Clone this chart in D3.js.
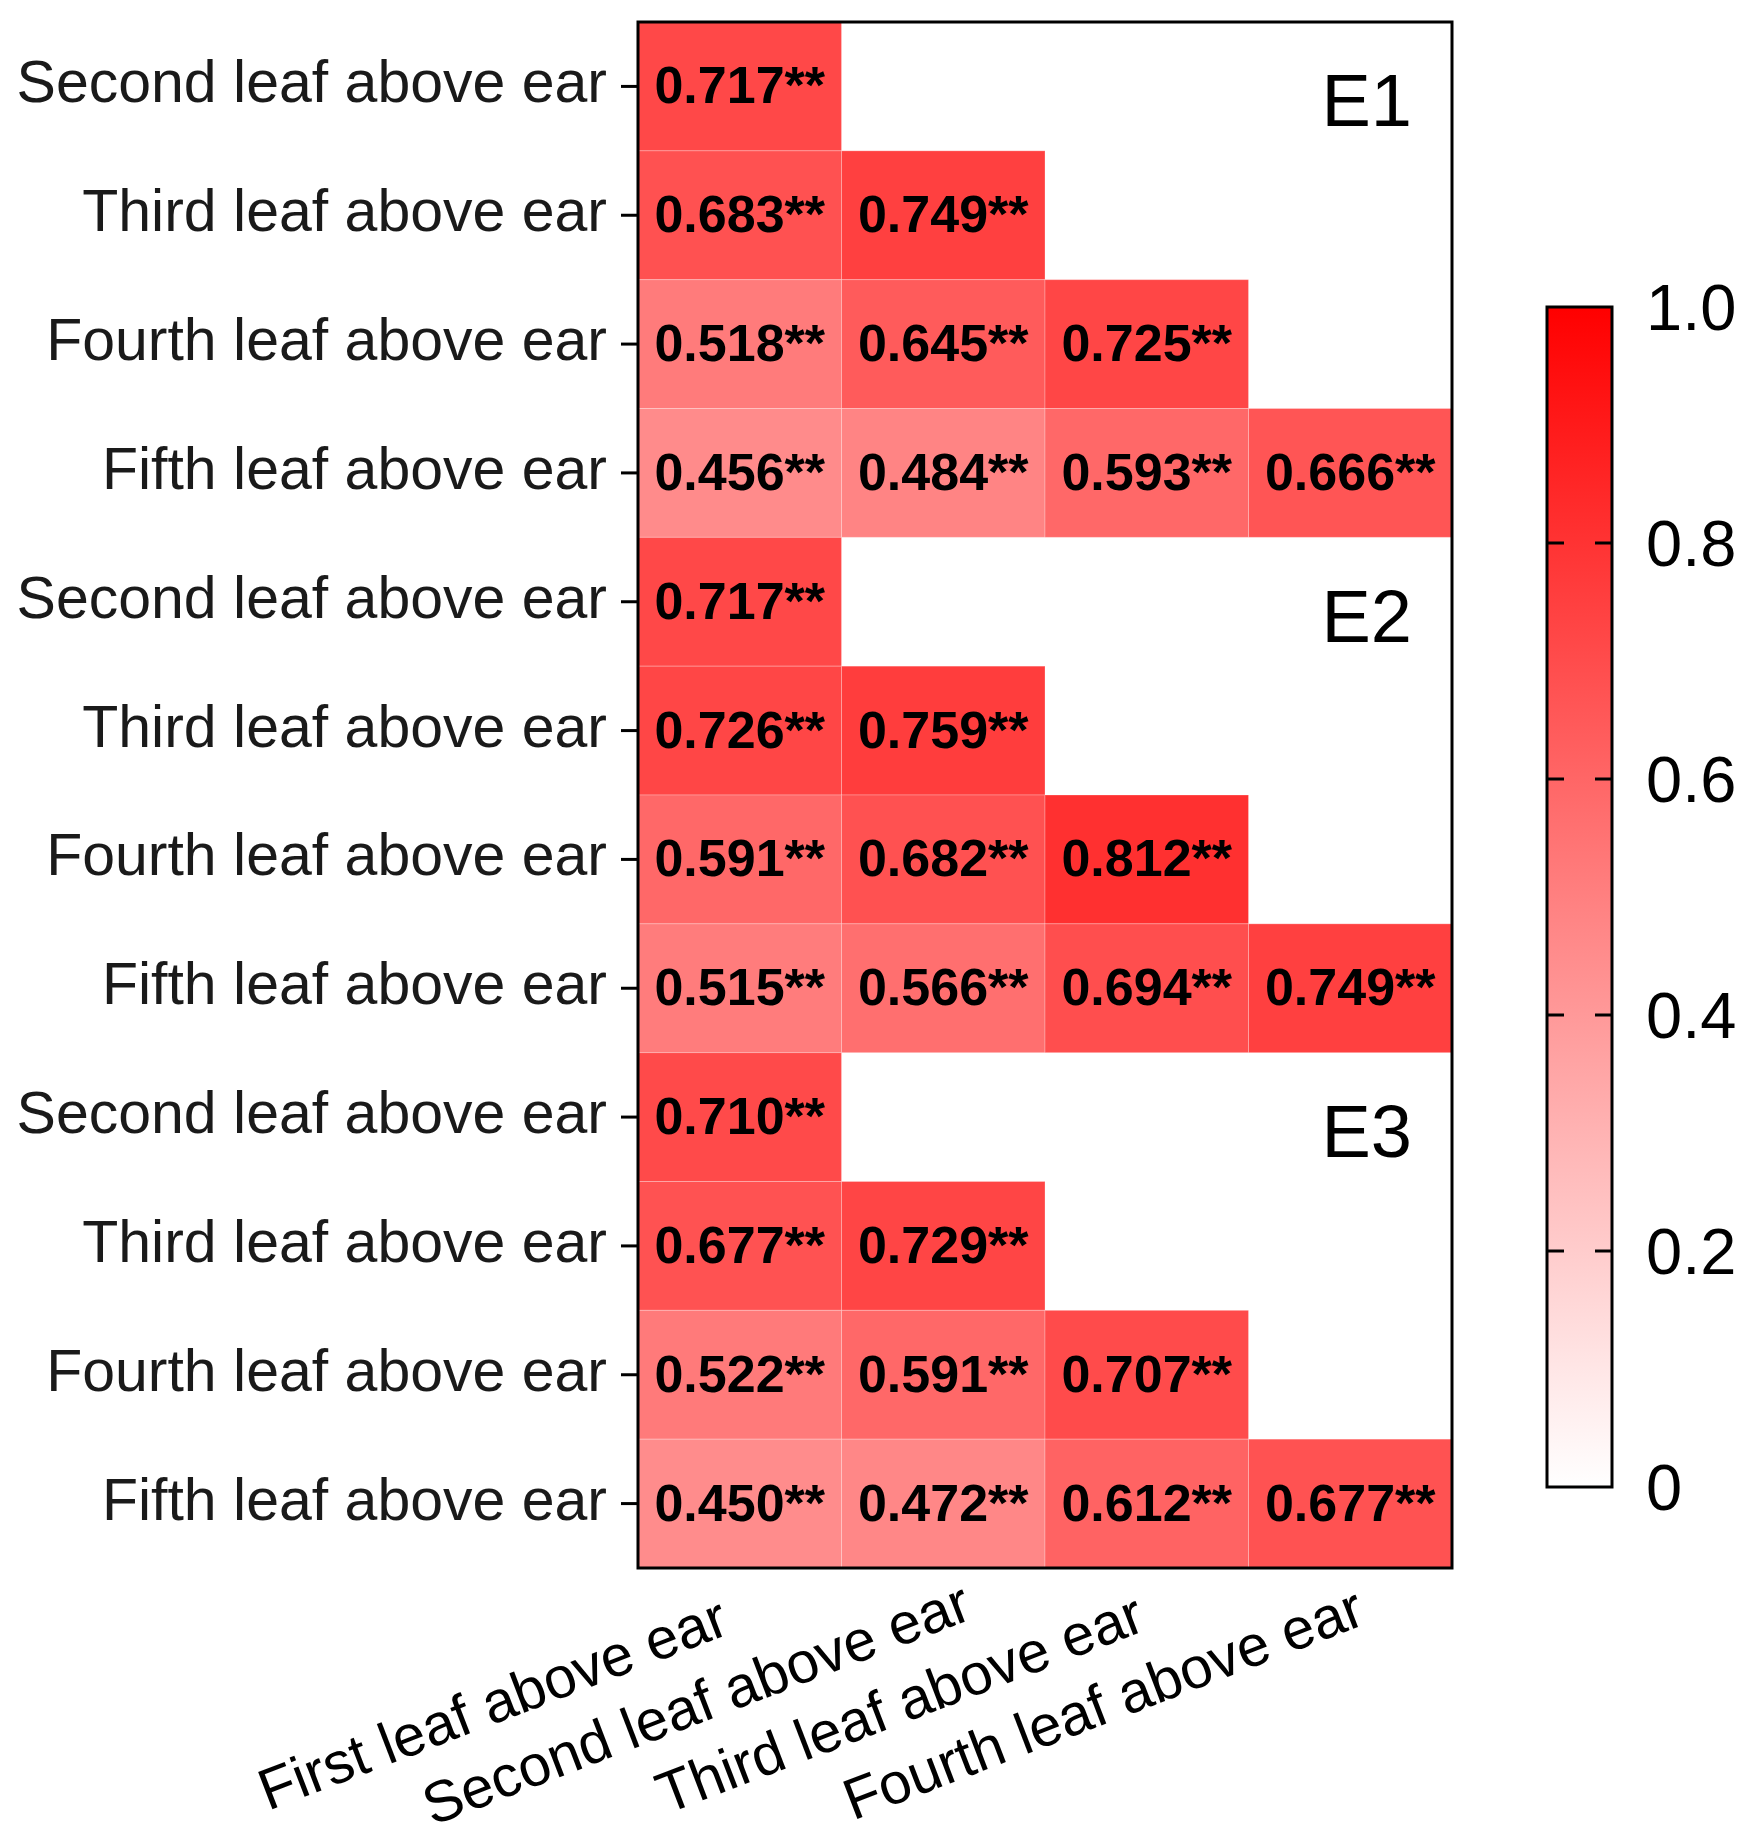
<!DOCTYPE html>
<html lang="en">
<head>
	<meta charset="UTF-8">
	<title>Leaf correlation heatmap</title>
	<script src="https://d3js.org/d3.v7.min.js"></script>
	<style>
		body { margin: 0; background: #fff; }
		text { font-family: "Liberation Sans", Arial, sans-serif; }
	</style>
</head>
<body>
<svg id="drawing_pad" width="1747" height="1846"></svg>
<script>
	// column leaves (x) and row leaves (y), three environments stacked
	let colNames = ["First leaf above ear", "Second leaf above ear", "Third leaf above ear", "Fourth leaf above ear"];
	let rowNames = ["Second leaf above ear", "Third leaf above ear", "Fourth leaf above ear", "Fifth leaf above ear"];
	let envs = ["E1", "E2", "E3"];

	// lower triangle values per environment, row by row
	let e1 = [[0.717], [0.683, 0.749], [0.518, 0.645, 0.725], [0.456, 0.484, 0.593, 0.666]];
	let e2 = [[0.717], [0.726, 0.759], [0.591, 0.682, 0.812], [0.515, 0.566, 0.694, 0.749]];
	let e3 = [[0.710], [0.677, 0.729], [0.522, 0.591, 0.707], [0.450, 0.472, 0.612, 0.677]];
	let envValues = [e1, e2, e3];
	let signif = "**";

	let legendTicks = [0, 0.2, 0.4, 0.6, 0.8, 1.0];

	function draw(){
		let svg = d3.select("#drawing_pad");
		let left = 638, right = 1452, top = 22, bottom = 1568;

		let rowKeys = [];
		envs.forEach(function(e){ rowNames.forEach(function(r){ rowKeys.push(e + "|" + r); }); });

		let x = d3.scaleBand().domain(colNames).range([left, right]);
		let y = d3.scaleBand().domain(rowKeys).range([top, bottom]);
		let colors = d3.scaleLinear().domain([0, 1]).range(["#ffffff", "#ff0000"]);

		let cells = [];
		envValues.forEach(function(rows, ei){
			rows.forEach(function(vals, ri){
				vals.forEach(function(v, ci){
					cells.push({row: envs[ei] + "|" + rowNames[ri], col: colNames[ci], value: v});
				});
			});
		});

		let g = svg.append("g");
		g.selectAll(".cell").data(cells).enter().append("rect")
			.attr("class", "cell")
			.attr("x", function(d){ return x(d.col); })
			.attr("y", function(d){ return y(d.row); })
			.attr("width", x.bandwidth())
			.attr("height", y.bandwidth())
			.style("fill", function(d){ return colors(d.value); })
			.style("stroke", "rgba(255,255,255,0.25)")
			.style("stroke-width", 1);

		g.selectAll(".val").data(cells).enter().append("text")
			.attr("class", "val")
			.attr("x", function(d){ return x(d.col) + x.bandwidth() / 2; })
			.attr("y", function(d){ return y(d.row) + y.bandwidth() / 2 + 17; })
			.attr("text-anchor", "middle")
			.attr("font-size", 52)
			.attr("font-weight", "bold")
			.text(function(d){ return d.value.toFixed(3) + signif; });

		// environment tags
		g.selectAll(".env").data(envs).enter().append("text")
			.attr("class", "env")
			.attr("x", right - 40)
			.attr("y", function(d){ return y(d + "|" + rowNames[0]) + y.bandwidth() / 2 + 40; })
			.attr("text-anchor", "end")
			.attr("font-size", 74)
			.text(function(d){ return d; });

		// frame
		svg.append("rect")
			.attr("x", left).attr("y", top)
			.attr("width", right - left).attr("height", bottom - top)
			.style("fill", "none").style("stroke", "#000").style("stroke-width", 3);

		// y axis
		let yAxis = svg.append("g")
			.attr("transform", "translate(" + left + ",0)")
			.call(d3.axisLeft(y).tickSize(17).tickSizeOuter(0).tickPadding(14)
				.tickFormat(function(k){ return k.split("|")[1]; }));
		yAxis.select(".domain").remove();
		yAxis.selectAll("line").style("stroke", "#000").style("stroke-width", 3);
		yAxis.selectAll("text")
			.attr("font-size", 59).attr("fill", "#1a1a1a")
			.attr("font-family", "Liberation Sans, Arial, sans-serif")
			.attr("dy", "0.27em");

		// x axis, rotated labels
		let xAxis = svg.append("g")
			.attr("transform", "translate(0," + bottom + ")")
			.call(d3.axisBottom(x).tickSize(0).tickSizeOuter(0));
		xAxis.select(".domain").remove();
		xAxis.selectAll("text")
			.attr("font-size", 58).attr("fill", "#000")
			.attr("font-family", "Liberation Sans, Arial, sans-serif")
			.attr("text-anchor", "middle")
			.attr("y", null).attr("dy", null)
			.attr("transform", "translate(-240,154) rotate(-21)");

		drawLegend(svg, colors);
	}

	function drawLegend(svg, colors){
		let lx = 1547, lw = 65;
		let ly = d3.scaleLinear().domain([0, 1]).range([1487, 307]);

		let grad = svg.append("defs").append("linearGradient")
			.attr("id", "cbar").attr("x1", 0).attr("y1", 1).attr("x2", 0).attr("y2", 0);
		d3.range(0, 1.01, 0.1).forEach(function(t){
			grad.append("stop").attr("offset", t).attr("stop-color", colors(t));
		});

		svg.append("rect")
			.attr("x", lx).attr("y", ly(1))
			.attr("width", lw).attr("height", ly(0) - ly(1))
			.style("fill", "url(#cbar)").style("stroke", "#000").style("stroke-width", 3);

		let inner = legendTicks.filter(function(t){ return t > 0 && t < 1; });
		svg.selectAll(".ltl").data(inner).enter().append("line")
			.attr("x1", lx).attr("x2", lx + 17)
			.attr("y1", function(d){ return ly(d); }).attr("y2", function(d){ return ly(d); })
			.style("stroke", "#000").style("stroke-width", 3);
		svg.selectAll(".ltr").data(inner).enter().append("line")
			.attr("x1", lx + lw - 17).attr("x2", lx + lw)
			.attr("y1", function(d){ return ly(d); }).attr("y2", function(d){ return ly(d); })
			.style("stroke", "#000").style("stroke-width", 3);

		svg.selectAll(".lab").data(legendTicks).enter().append("text")
			.attr("x", lx + lw + 34)
			.attr("y", function(d){ return ly(d); })
			.attr("dy", "0.36em")
			.attr("font-size", 65)
			.text(function(d){ return d === 0 ? "0" : d.toFixed(1); });
	}

	draw();
</script>
</body>
</html>
